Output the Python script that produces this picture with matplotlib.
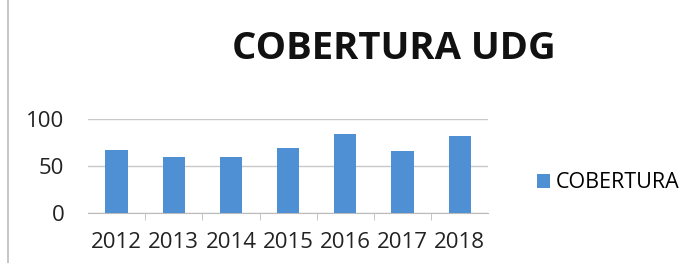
import matplotlib.pyplot as plt
from matplotlib.lines import Line2D

# Datos de cobertura por año
anios = ["2012", "2013", "2014", "2015", "2016", "2017", "2018"]
cobertura = [67, 59, 60, 69, 84, 66, 82]
y_ticks = [0, 50, 100]

plt.rcParams['font.family'] = ['Open Sans', 'DejaVu Sans']

fig = plt.figure(figsize=(6.82, 2.63), dpi=100)
ax = fig.add_axes([0.129, 0.19, 0.587, 0.358])

pos = list(range(len(anios)))
ax.bar(pos, cobertura, width=0.39, color='#4F8FD4', label='COBERTURA', zorder=3)

ax.set_xlim(-0.5, len(anios) - 0.5)
ax.set_ylim(0, 100)
ax.set_yticks(y_ticks)
ax.set_yticklabels([str(v) for v in y_ticks], fontsize=16, color='#222222')
ax.set_xticks(pos)
ax.set_xticklabels(anios, fontsize=16, color='#222222')
ax.tick_params(axis='x', length=0, pad=14)
ax.tick_params(axis='y', length=0, pad=17)
ax.set_xticks([p + 0.5 for p in pos[:-1]], minor=True)
ax.tick_params(axis='x', which='minor', length=5, color='#bbbbbb', direction='out')

ax.grid(axis='y', color='#c8c8c8', linewidth=1, zorder=0)
for s in ['top', 'right', 'left']:
    ax.spines[s].set_visible(False)
ax.spines['bottom'].set_color('#bbbbbb')

fig.text(0.578, 0.815, 'COBERTURA UDG', fontsize=27.5, fontweight='bold',
         ha='center', va='center', color='#111111')

ax.legend(loc='center left', bbox_to_anchor=(0.772, 0.305), bbox_transform=fig.transFigure,
          frameon=False, fontsize=15.5, handlelength=0.6, handleheight=0.6,
          handletextpad=0.25, borderpad=0)

# línea gris del borde izquierdo
fig.add_artist(Line2D([0.011, 0.011], [0, 1], transform=fig.transFigure,
                      color='#bbbbbb', linewidth=1.2))

fig.savefig('out.png', dpi=100)
